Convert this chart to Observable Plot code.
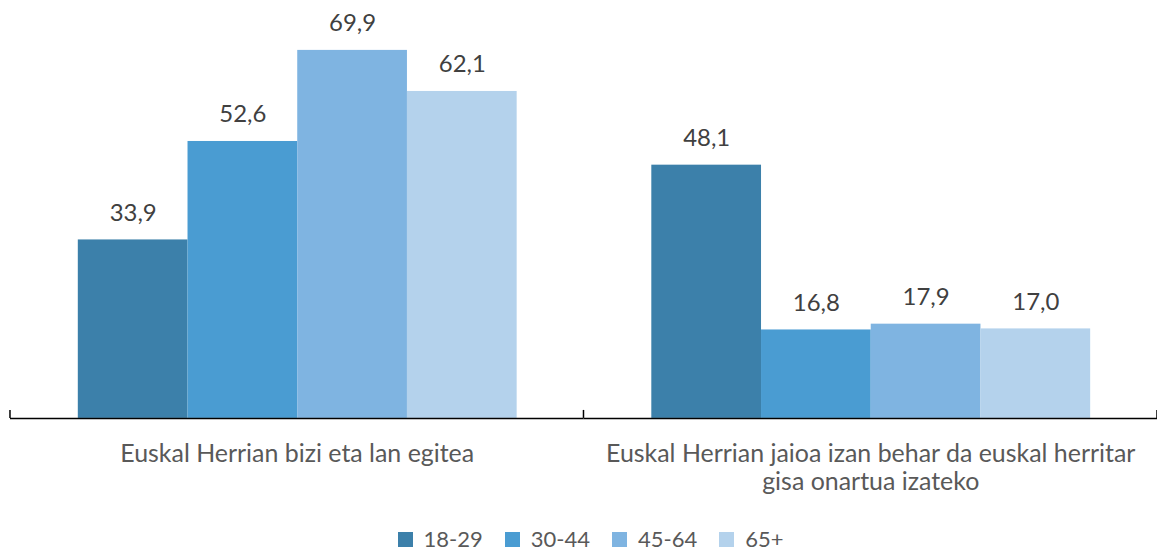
<!DOCTYPE html>
<html>
<head>
<meta charset="utf-8">
<script src="https://cdn.jsdelivr.net/npm/d3@7"></script>
<script src="https://cdn.jsdelivr.net/npm/@observablehq/plot@0.6"></script>
<style>
  html, body { margin: 0; padding: 0; background: #fff; overflow: hidden; }
  #chart { width: 1157px; position: relative; height: 505px; }
  #legend { width: 1157px; display: flex; justify-content: center; padding-left: 46px; box-sizing: border-box; margin-top: 23px; line-height: 1; }
  #legend div, #legend span { line-height: 1 !important; min-height: 0 !important; }
  g[aria-label="fx-axis tick label"] { color: #595959; }
</style>
</head>
<body>
<div id="chart"></div>
<div id="legend"></div>
<script>
// ---- data ----
const categories = [
  "Euskal Herrian bizi eta lan egitea",
  "Euskal Herrian jaioa izan behar da euskal herritar gisa onartua izateko"
];
const categoryLabels = [
  "Euskal Herrian bizi eta lan egitea",
  "Euskal Herrian jaioa izan behar da euskal herritar\ngisa onartua izateko"
];
const ageGroups = ["18-29", "30-44", "45-64", "65+"];
const values18_29 = [33.9, 48.1];
const values30_44 = [52.6, 16.8];
const values45_64 = [69.9, 17.9];
const values65plus = [62.1, 17.0];
const colors = ["#3C80AA", "#4A9CD2", "#7FB4E1", "#B4D2EC"];

const series = [values18_29, values30_44, values45_64, values65plus];
const rows = [];
categories.forEach((c, ci) => {
  ageGroups.forEach((g, gi) => {
    rows.push({category: c, group: g, value: series[gi][ci]});
  });
});
const fmt = v => v.toFixed(1).replace(".", ",");
const labelOf = c => categoryLabels[categories.indexOf(c)];

const plot = Plot.plot({
  width: 1160,
  height: 505,
  marginLeft: 10,
  marginRight: 0,
  marginTop: 49.5,
  marginBottom: 86,
  style: {fontFamily: "Lato, 'Open Sans', sans-serif", fontSize: "22px", background: "#fff", overflow: "visible"},
  fx: {domain: categories, paddingInner: 0, paddingOuter: 0, label: null},
  x: {domain: ageGroups, paddingInner: 0, paddingOuter: 0.6, axis: null},
  y: {domain: [0, 70], axis: null},
  color: {domain: ageGroups, range: colors},
  marks: [
    Plot.barY(rows, {fx: "category", x: "group", y: "value", fill: "group"}),
    Plot.ruleY([0], {stroke: "#000", strokeWidth: 1.5}),
    Plot.text(rows, {fx: "category", x: "group", y: "value", text: d => fmt(d.value), dy: -27, fontSize: 24, fill: "#404040"}),
    Plot.axisFx({anchor: "bottom", label: null, tickSize: 0, tickPadding: 24, fontSize: 25, lineHeight: 1.12, fill: "#595959", tickFormat: labelOf})
  ]
});
document.getElementById("chart").appendChild(plot);

// category boundary ticks on the baseline, positioned from the fx/y scales
const fxs = plot.scale("fx");
const ys = plot.scale("y");
const y0 = ys.apply(0);
const svg = d3.select(plot);
const edges = categories.map(c => fxs.apply(c)).concat([fxs.apply(categories[categories.length - 1]) + fxs.bandwidth]);
svg.append("g").selectAll("line").data(edges).join("line")
  .attr("x1", d => d).attr("x2", d => d)
  .attr("y1", y0 - 8).attr("y2", y0)
  .attr("stroke", "#000").attr("stroke-width", 1.5);

const legend = plot.legend("color", {
  legend: "swatches",
  swatchSize: 15,
  style: {fontFamily: "Lato, 'Open Sans', sans-serif", fontSize: "22px", color: "#595959", marginLeft: 0}
});
document.getElementById("legend").appendChild(legend);
</script>
</body>
</html>
